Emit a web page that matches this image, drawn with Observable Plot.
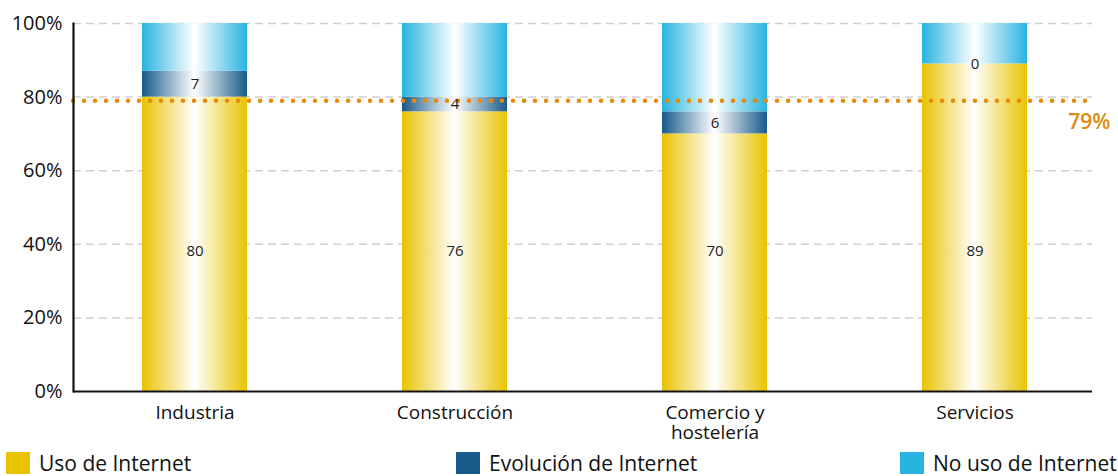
<!DOCTYPE html>
<html>
<head>
<meta charset="utf-8">
<script src="https://cdn.jsdelivr.net/npm/d3@7"></script>
<script src="https://cdn.jsdelivr.net/npm/@observablehq/plot@0.6"></script>
<style>
  html, body { margin: 0; padding: 0; background: #fff; }
  body { width: 1118px; height: 476px; overflow: hidden; position: relative; font-family: "Open Sans", sans-serif; }
  #chart { position: absolute; left: 0; top: 0; }
  .legend-item { position: absolute; top: 450px; height: 26px; display: flex; align-items: center; font-size: 21px; color: #111; }
  .legend-item .sw { width: 24px; height: 22px; margin-right: 9px; }
  .legend-item span { line-height: 26px; }
</style>
</head>
<body>
<div id="chart"></div>
<div id="legend"></div>
<script>
// ---- data ----
const categories = ["Industria", "Construcción", "Comercio y\nhostelería", "Servicios"];
const usoInternet = [80, 76, 70, 89];
const evolucionInternet = [7, 4, 6, 0];
const noUsoInternet = [13, 20, 24, 11];
const seriesNames = ["Uso de Internet", "Evolución de Internet", "No uso de Internet"];
const seriesColors = ["#E9C300", "#175A8A", "#27B4E0"];
const averageValue = 79;
const averageLabel = "79%";
const yTicks = [0, 20, 40, 60, 80, 100];

// ---- build stacked segments ----
const seriesValues = [usoInternet, evolucionInternet, noUsoInternet];
const segments = [];
categories.forEach((cat, i) => {
  let base = 0;
  seriesValues.forEach((vals, s) => {
    segments.push({cat, s, y1: base, y2: base + vals[i], value: vals[i]});
    base += vals[i];
  });
});
const usoLabels = categories.map((cat, i) => ({cat, value: usoInternet[i]}));
const evoLabels = categories.map((cat, i) => ({cat, value: evolucionInternet[i], mid: usoInternet[i] + evolucionInternet[i] / 2}));

const font = "'Open Sans', sans-serif";

const plot = Plot.plot({
  width: 1118,
  height: 450,
  marginLeft: 73,
  marginRight: 26,
  marginTop: 23,
  marginBottom: 59,
  style: {fontFamily: font, background: "white", color: "#111"},
  x: {domain: categories, paddingInner: 0.596, paddingOuter: 0.2575, align: 0.515, label: null},
  y: {domain: [0, 100], label: null},
  marks: [
    Plot.gridY(yTicks.slice(1), {stroke: "#cfcfcf", strokeOpacity: 1, strokeWidth: 1.5, strokeDasharray: "8 5"}),
    ...seriesNames.map((name, s) =>
      Plot.rectY(segments.filter(d => d.s === s && d.value > 0), {
        x: "cat", y1: "y1", y2: "y2", fill: `url(#grad${s})`
      })
    ),
    Plot.ruleY([averageValue], {stroke: "#E8890C", strokeWidth: 4.5, strokeDasharray: "0 11", strokeLinecap: "round"}),
    Plot.text(usoLabels, {x: "cat", y: () => 38, text: d => String(d.value), fontSize: 15, fill: "#222"}),
    Plot.text(evoLabels, {x: "cat", y: "mid", text: d => String(d.value), fontSize: 15, fill: "#222"}),
    Plot.text([averageValue], {y: d => d, frameAnchor: "right", textAnchor: "end", dx: 18, dy: 21, text: () => averageLabel, fill: "#E08A10", fontSize: 21, fontWeight: 600}),
    Plot.axisY(yTicks, {tickSize: 0, tickPadding: 11, tickFormat: d => d + "%", fontSize: 20, fill: "#111"}),
    Plot.axisX({tickSize: 0, tickPadding: 13, fontSize: 19, fill: "#111", lineHeight: 1.05}),
    Plot.ruleY([0], {stroke: "#111", strokeWidth: 2.2}),
    Plot.frame({anchor: "left", stroke: "#111", strokeWidth: 2.2})
  ]
});

// gradient definitions (horizontal: colour at the edges, white in the centre)
const svg = d3.select(plot);
const defs = svg.insert("defs", ":first-child");
seriesColors.forEach((c, s) => {
  const g = defs.append("linearGradient").attr("id", `grad${s}`).attr("x1", "0").attr("x2", "1").attr("y1", "0").attr("y2", "0");
  g.append("stop").attr("offset", "0").attr("stop-color", c);
  g.append("stop").attr("offset", "0.5").attr("stop-color", "#ffffff");
  g.append("stop").attr("offset", "1").attr("stop-color", c);
});
document.getElementById("chart").appendChild(plot);

// legend
const legendX = [6, 456, 900];
const legend = document.getElementById("legend");
seriesNames.forEach((name, s) => {
  const item = document.createElement("div");
  item.className = "legend-item";
  item.style.left = legendX[s] + "px";
  const sw = document.createElement("div");
  sw.className = "sw";
  sw.style.background = seriesColors[s];
  const t = document.createElement("span");
  t.textContent = name;
  item.appendChild(sw);
  item.appendChild(t);
  legend.appendChild(item);
});
</script>
</body>
</html>
